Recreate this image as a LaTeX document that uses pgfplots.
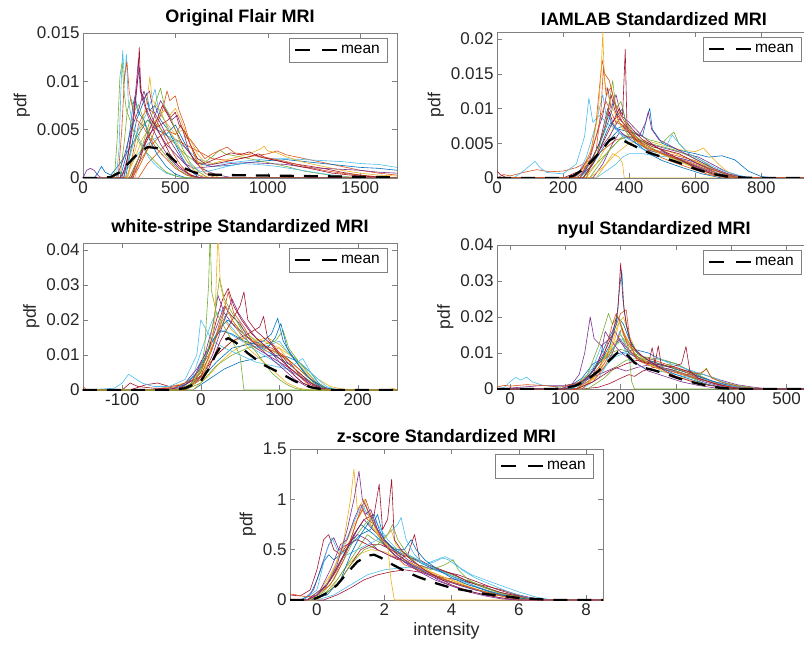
\documentclass[border=0pt]{standalone}
\usepackage{pgfplots}
\pgfplotsset{compat=1.18}
\usepackage{fontspec}
\setmainfont{Liberation Sans}
\definecolor{c1}{rgb}{0,0.447,0.741}
\definecolor{c2}{rgb}{0.85,0.325,0.098}
\definecolor{c3}{rgb}{0.929,0.694,0.125}
\definecolor{c4}{rgb}{0.494,0.184,0.556}
\definecolor{c5}{rgb}{0.466,0.674,0.188}
\definecolor{c6}{rgb}{0.301,0.745,0.933}
\definecolor{c7}{rgb}{0.635,0.078,0.184}
\newcommand{\lgfont}{\fontsize{15.5}{17}\selectfont}
\pgfplotsset{
 mat/.style={scale only axis, anchor=south west,
  axis line style={black!50}, every tick/.style={black!50},
  tick align=inside, major tick length=5pt,
  /pgf/number format/assume math mode=true,
  /pgf/number format/1000 sep={}, scaled ticks=false,
  ticklabel style={font=\fontsize{17}{19}\selectfont, text=black!85},
  title style={font=\bfseries\fontsize{18}{20}\selectfont, yshift=-3pt},
  ylabel={pdf}, ylabel style={font=\fontsize{17.5}{19}\selectfont, text=black!85},
  xlabel style={font=\fontsize{18}{20}\selectfont, text=black!85},
  legend style={at={(1,1)}, anchor=north east, xshift=-10pt, yshift=-5pt,
   draw=black!50, inner xsep=5pt, inner ysep=5pt,
   /tikz/every even column/.append style={column sep=6pt}},
  legend image code/.code={\draw[##1, dash pattern=on 15pt off 12pt] (0pt,0pt) -- (43pt,0pt);},
 },
 cv/.style={forget plot, line width=0.6pt, line join=round},
 mn/.style={black, line width=2.3pt, dash pattern=on 14pt off 10pt},
}
\begin{document}
\begin{tikzpicture}
\useasboundingbox (0,0) rectangle (804pt,649pt);
% ---------------- Panel 1
\begin{axis}[mat, at={(83pt,471pt)}, width=314pt, height=145pt,
 xmin=0, xmax=1700, ymin=0, ymax=15,
 xtick={0,500,1000,1500}, ytick={0,5,10,15},
 yticklabels={0,0.005,0.01,0.015}, title={Original Flair MRI}]
\addplot[cv,c2] coordinates {(0,0)(300,0)(350,1.5)(400,2.5)(450,3.5)(500,4)(550,3.5)(600,3)(650,2.5)(700,2)(800,1.8)(900,2.2)(1000,2.5)(1050,2.8)(1100,2.4)(1200,2)(1300,1.6)(1400,1.2)(1500,0.8)(1600,0.5)(1700,0.3)};
\addplot[cv,c6] coordinates {(0,0)(200,0)(260,1.5)(320,3)(380,4)(440,4.5)(500,4)(560,3)(620,2)(700,1.5)(800,1.6)(900,1.8)(1000,2)(1100,2.0)(1200,1.9)(1300,1.8)(1400,1.7)(1500,1.5)(1600,1.4)(1700,1.1)};
\addplot[cv,c1] coordinates {(0,0)(230,0)(260,3)(290,6)(320,7.5)(345,8.8)(360,7)(390,7.5)(420,6)(460,5)(500,3.5)(540,2)(580,0.8)(630,0)(1700,0)};
\addplot[cv,c1] coordinates {(0,0)(60,0)(80,0.5)(100,1.2)(120,0.6)(150,0.3)(200,1.5)(250,3)(300,4.5)(350,6)(400,5)(450,4.5)(500,5.5)(540,4)(580,2.5)(620,1.5)(700,1.2)(800,1.3)(900,1.6)(1000,1.8)(1100,1.9)(1200,1.7)(1300,1.5)(1400,1.3)(1500,1.1)(1600,1.0)(1700,0.8)};
\addplot[cv,c2] coordinates {(0,0)(240,0)(270,2.5)(300,5.5)(325,6.5)(350,7.2)(380,6.8)(410,5.5)(450,4)(490,2.5)(530,1.3)(570,0.5)(620,0)(1700,0)};
\addplot[cv,c5] coordinates {(0,0)(220,0)(260,3)(300,5)(350,6)(400,5.5)(450,4.5)(500,3.5)(550,2.5)(600,1.8)(650,1.5)(700,2.2)(740,2.9)(770,2.5)(820,2.3)(900,2)(1000,1.6)(1100,1.2)(1200,0.7)(1300,0.4)(1450,0.1)(1550,0)(1700,0)};
\addplot[cv,c3] coordinates {(0,0)(280,0)(320,2.5)(360,5)(400,6)(440,7)(470,6.5)(500,7.2)(530,6)(560,4.5)(590,3)(620,1.8)(660,0.8)(700,0.3)(750,0)(1700,0)};
\addplot[cv,c3] coordinates {(0,0)(230,0)(280,2)(320,4)(370,5.5)(420,6.5)(460,5.5)(500,4.5)(540,5)(580,4)(620,2.5)(650,1.8)(700,1.5)(800,2)(900,2.5)(960,3)(980,3.3)(1000,2.8)(1050,2.6)(1100,2.2)(1200,1.6)(1300,1.2)(1400,0.8)(1500,0.5)(1600,0.3)(1700,0.2)};
\addplot[cv,c4] coordinates {(0,0)(270,0)(310,2)(350,4.5)(390,6.5)(420,8)(450,7)(480,6)(510,6.5)(540,5)(570,3)(600,1.8)(640,1)(700,0.5)(760,0.2)(820,0)(1700,0)};
\addplot[cv,c7] coordinates {(0,0)(250,0)(300,2)(350,4)(400,6)(430,7.5)(460,6.5)(500,5)(540,3.5)(580,2.5)(620,1.5)(700,1.4)(800,1.8)(900,2.2)(950,2.5)(1000,2.0)(1100,1.6)(1200,1.3)(1300,1.0)(1400,0.6)(1500,0.3)(1600,0.1)(1700,0)};
\addplot[cv,c5] coordinates {(0,0)(200,0)(225,4)(240,7)(260,8.2)(280,7)(300,7.6)(320,6.5)(350,5)(380,4)(420,3)(470,1.8)(520,0.8)(580,0.2)(640,0)(1700,0)};
\addplot[cv,c4] coordinates {(0,0)(20,0.8)(40,1)(60,0.8)(80,0.3)(100,0)(180,0)(220,2)(260,5)(300,7)(330,9)(360,7)(400,5)(450,3.5)(500,2.5)(550,1.5)(600,1)(700,1.2)(800,1.5)(900,1.6)(1000,1.5)(1100,1.4)(1200,1.1)(1300,1.0)(1400,0.9)(1500,0.8)(1600,0.6)(1700,0.5)};
\addplot[cv,c6] coordinates {(0,0)(220,0)(250,2)(280,4)(310,5.5)(340,6.5)(370,8)(390,9.2)(410,7)(440,6)(480,4.5)(520,3)(560,1.8)(600,1)(650,0.6)(700,0.8)(780,1.2)(850,1.5)(950,1.4)(1050,1.2)(1150,0.9)(1250,0.6)(1350,0.3)(1450,0)(1700,0)};
\addplot[cv,c2] coordinates {(0,0)(260,0)(300,1.5)(350,3)(400,4)(450,5)(500,4.5)(530,5.5)(555,4.2)(580,4)(620,3)(660,2)(700,2.5)(780,3.2)(820,2.6)(900,2.4)(1000,2.1)(1100,1.7)(1200,1.2)(1300,0.8)(1400,0.5)(1550,0.2)(1700,0)};
\addplot[cv,c7] coordinates {(0,0)(260,0)(300,2)(340,4)(380,5)(420,5.5)(460,6)(500,6.8)(520,5.5)(550,4.8)(580,3.5)(620,2)(660,1.5)(720,2)(800,2.6)(850,2.4)(900,2.7)(950,2.2)(1050,1.8)(1150,1.3)(1250,0.9)(1350,0.5)(1500,0.2)(1700,0)};
\addplot[cv,c1] coordinates {(0,0)(200,0)(230,2)(255,5)(270,7.5)(282,8.5)(295,7)(310,6.5)(330,6)(360,4)(400,2.5)(450,1.2)(500,0.4)(560,0)(1700,0)};
\addplot[cv,c2] coordinates {(0,0)(260,0)(300,1)(350,3)(400,5.5)(430,7)(455,9)(470,8)(500,8.5)(520,7)(550,5.5)(580,3.5)(620,1.5)(660,0.5)(720,0)(1700,0)};
\addplot[cv,c5] coordinates {(0,0)(250,0)(300,2)(340,4.5)(380,7)(405,8.5)(420,9.3)(440,7.5)(470,6.5)(500,5)(540,3)(580,1.6)(630,0.6)(680,0)(1700,0)};
\addplot[cv,c4] coordinates {(0,0)(210,0)(240,2)(270,6)(290,9.2)(305,11.5)(320,8)(340,8.5)(360,9)(380,7)(410,6)(450,4.5)(500,3)(550,1.5)(600,0.5)(660,0)(1700,0)};
\addplot[cv,c3] coordinates {(0,0)(240,0)(270,2)(300,4)(330,6.5)(350,8.5)(362,10.5)(375,8)(400,7.5)(430,6.5)(460,5)(500,4)(540,2.5)(580,1.2)(630,0.3)(700,0)(1700,0)};
\addplot[cv,c4] coordinates {(0,0)(220,0)(250,3)(275,7)(290,10)(300,12.3)(310,9)(325,8)(350,6.5)(380,5)(420,3.5)(470,2)(520,1)(580,0.3)(640,0)(1700,0)};
\addplot[cv,c6] coordinates {(0,0)(180,0)(195,3)(205,9)(215,13.2)(225,10)(235,12.8)(245,8)(260,6.5)(280,5)(300,4.2)(330,3)(360,2)(400,1.2)(450,0.5)(500,0.2)(560,0)(1700,0)};
\addplot[cv,c5] coordinates {(0,0)(170,0)(185,4)(200,10.5)(212,12)(222,9)(235,7)(255,6)(280,4.5)(310,3.5)(350,2.5)(400,1.5)(450,0.6)(520,0.1)(600,0)(1700,0)};
\addplot[cv,c2] coordinates {(0,0)(190,0)(210,5)(225,10.5)(238,12)(250,9)(265,7.5)(290,6)(320,5.5)(350,4.5)(400,3)(450,2)(500,1)(560,0.3)(620,0)(1700,0)};
\addplot[cv,c7] coordinates {(0,0)(200,0)(230,1)(260,4)(280,7)(295,10)(305,13.5)(312,9)(325,8.5)(345,7)(370,6)(400,5.2)(430,4)(470,2.5)(520,1.2)(580,0.3)(640,0)(1700,0)};
\addplot[mn] coordinates {(0,0)(100,0)(150,0.1)(200,0.6)(250,1.6)(300,2.6)(350,3.2)(400,3.1)(450,2.6)(500,1.7)(550,1.0)(600,0.6)(650,0.4)(700,0.35)(800,0.3)(1000,0.25)(1200,0.2)(1400,0.15)(1600,0.1)(1700,0.05)};
\addlegendentry{\lgfont mean}
\end{axis}
% ---------------- Panel 2
\begin{axis}[mat, at={(497pt,471pt)}, width=314pt, height=146pt,
 xmin=0, xmax=950, ymin=0, ymax=21,
 xtick={0,200,400,600,800}, ytick={0,5,10,15,20},
 yticklabels={0,0.005,0.01,0.015,0.02}, title={IAMLAB Standardized MRI}]
\addplot[cv,c2] coordinates {(0,0)(20,0.5)(40,0.3)(80,0.8)(120,1.2)(160,0.9)(200,1.0)(240,1.5)(280,2.5)(320,4)(360,5.5)(400,6)(440,5)(480,4)(520,3.5)(560,3)(600,2.5)(640,1.5)(680,0.8)(720,0.3)(760,0)(950,0)};
\addplot[cv,c6] coordinates {(0,0)(300,0)(330,1)(360,2)(380,3)(400,3.5)(440,3.5)(480,3.2)(520,3)(560,2.8)(600,2.2)(640,1.5)(680,0.8)(700,0.5)(730,0.3)(760,0.1)(800,0)(950,0)};
\addplot[cv,c3] coordinates {(0,0)(300,0)(330,2)(350,3.5)(370,3)(380,2)(385,0)(950,0)};
\addplot[cv,c4] coordinates {(0,0)(290,0)(320,2)(350,5)(370,6.5)(390,6)(420,5.5)(450,5)(490,4.5)(530,4)(570,3.5)(610,3)(650,2)(690,1)(730,0.3)(770,0)(950,0)};
\addplot[cv,c5] coordinates {(0,0)(280,0)(310,2)(340,4)(370,5.5)(400,6)(430,5.5)(460,5)(500,4.5)(540,4)(580,3.2)(620,2.2)(660,1.2)(700,0.5)(740,0)(950,0)};
\addplot[cv,c5] coordinates {(0,0)(260,0)(300,2)(340,4)(380,6)(420,6.5)(460,5.5)(500,5)(520,6)(535,6.6)(550,5)(580,3.5)(620,2.5)(660,1.2)(700,0.3)(740,0)(950,0)};
\addplot[cv,c3] coordinates {(0,0)(280,0)(320,1.5)(360,3.5)(400,5)(440,5.5)(480,5)(520,4.5)(560,4)(600,3.8)(625,4.3)(640,3.5)(670,2)(700,0.8)(730,0.2)(760,0)(950,0)};
\addplot[cv,c1] coordinates {(0,0)(260,0)(290,2)(310,4)(330,6.5)(345,8)(360,7)(380,7.5)(400,6)(430,5)(470,4)(510,3.2)(560,2.5)(610,1.6)(660,0.8)(710,0.2)(750,0)(950,0)};
\addplot[cv,c3] coordinates {(0,0)(270,0)(300,2)(330,4.5)(350,7)(365,8.5)(380,7)(400,6.5)(430,5.5)(470,4.5)(520,3.8)(570,3)(620,2)(670,1)(710,0.3)(750,0)(950,0)};
\addplot[cv,c1] coordinates {(0,0)(250,0)(290,2)(330,5)(370,7)(410,6.5)(440,6)(455,9)(462,10)(470,7)(500,5)(550,4)(600,3.5)(640,3)(680,3.2)(720,2.6)(760,1)(800,0.2)(840,0)(950,0)};
\addplot[cv,c4] coordinates {(0,0)(230,0)(260,1)(290,3)(310,5)(325,8)(335,10)(345,8)(365,7)(390,6)(420,5)(460,4.2)(500,3.6)(540,3)(590,2.4)(640,1.4)(690,0.6)(730,0)(950,0)};
\addplot[cv,c7] coordinates {(0,0)(250,0)(280,2)(305,4.5)(325,7)(340,9.5)(350,8)(365,9)(380,8)(400,7)(430,5.5)(470,4.5)(510,4)(550,3.5)(590,2.5)(630,1.5)(670,0.6)(710,0)(950,0)};
\addplot[cv,c4] coordinates {(0,0)(240,0)(280,1.5)(310,4)(340,6)(370,8.5)(400,7)(430,6)(450,8)(458,9.5)(468,7)(490,5.5)(530,4.5)(570,3.5)(610,2.5)(650,1.5)(700,0.6)(750,0)(950,0)};
\addplot[cv,c6] coordinates {(0,0)(50,0)(80,1)(100,1.8)(115,2.4)(130,1.5)(150,0.8)(200,0.6)(240,2)(265,6)(278,11.5)(290,8)(310,9)(330,8)(360,7)(400,5)(450,4)(500,3.5)(530,6.2)(550,5)(580,3.5)(620,2.5)(660,1.5)(700,0.8)(740,0.3)(780,0)(950,0)};
\addplot[cv,c7] coordinates {(0,1)(10,0.5)(30,0)(200,0)(250,1)(300,3)(330,8)(345,12)(355,10)(370,8)(400,6.5)(430,5)(460,4)(500,3.5)(560,2.5)(610,1.5)(660,0.6)(700,0)(950,0)};
\addplot[cv,c6] coordinates {(0,0)(240,0)(270,3)(295,7)(310,10)(320,12)(330,9)(350,8)(370,6.5)(400,5.5)(440,4.5)(480,3.8)(530,3)(580,2.2)(630,1.3)(680,0.5)(720,0)(950,0)};
\addplot[cv,c1] coordinates {(0,0)(250,0)(290,3)(320,6)(340,8.5)(355,11)(365,9)(380,10)(395,7)(420,5)(460,3.5)(500,2.5)(560,1.5)(620,0.6)(680,0)(950,0)};
\addplot[cv,c4] coordinates {(0,0)(220,0)(250,1)(280,3)(300,6)(320,9)(335,13)(345,10)(360,12)(375,9)(400,8)(440,6)(480,4.5)(530,3)(580,2)(630,1)(680,0.3)(720,0)(950,0)};
\addplot[cv,c5] coordinates {(0,0)(260,0)(300,3)(325,7)(340,11)(350,14)(360,10)(375,11)(390,8)(420,6)(460,4.5)(500,3.5)(550,2.5)(600,1.5)(650,0.5)(700,0)(950,0)};
\addplot[cv,c2] coordinates {(0,0)(250,0)(280,2.5)(300,6)(315,9)(330,11)(345,9.5)(360,8)(385,7.5)(410,6)(450,4.5)(500,3.5)(550,2.8)(600,2)(650,1.2)(700,0.4)(740,0)(950,0)};
\addplot[cv,c2] coordinates {(0,0)(270,0)(300,4)(315,10)(322,16)(330,12)(345,13)(360,10)(380,8)(410,6)(450,4.5)(500,3.5)(560,2.5)(620,1.5)(670,0.6)(720,0)(950,0)};
\addplot[cv,c2] coordinates {(0,0)(230,0)(260,1.5)(285,4)(300,8)(310,13)(318,17)(326,15)(340,14)(355,11)(375,9)(400,7)(430,5)(470,3.5)(520,2.5)(580,1.5)(640,0.5)(700,0)(950,0)};
\addplot[cv,c3] coordinates {(0,0)(240,0)(270,2)(290,5)(305,9)(315,15)(320,21)(325,14)(335,12)(350,10)(370,8)(400,6)(430,5)(470,4)(520,3)(570,2)(620,1)(680,0.3)(720,0)(950,0)};
\addplot[cv,c7] coordinates {(0,0)(260,0)(290,2)(320,5)(350,8)(370,10)(380,9)(388,18.5)(393,8)(410,7)(440,5.5)(480,4.5)(520,3.5)(560,2.5)(600,1.5)(650,0.6)(700,0)(950,0)};
\addplot[mn] coordinates {(0,0)(200,0)(230,0.3)(260,1.2)(290,2.6)(320,4.2)(340,5.4)(355,5.8)(370,5.7)(390,5.2)(420,4.5)(450,3.8)(500,3.0)(550,2.2)(600,1.3)(650,0.6)(700,0.2)(750,0.05)(800,0)(950,0)};
\addlegendentry{\lgfont mean}
\end{axis}
% ---------------- Panel 3
\begin{axis}[mat, at={(83pt,259pt)}, width=314pt, height=147pt,
 xmin=-150, xmax=250, ymin=0, ymax=42,
 xtick={-100,0,100,200}, ytick={0,10,20,30,40},
 yticklabels={0,0.01,0.02,0.03,0.04}, title={white-stripe Standardized MRI}]
\addplot[cv,c3] coordinates {(-150,0)(-60,0)(-40,1)(-20,2)(0,5)(20,10)(40,14)(60,15)(80,14)(100,12)(120,9)(135,6)(150,3)(165,1)(180,0.3)(200,0)(240,0)(245,0.5)(250,0)};
\addplot[cv,c1] coordinates {(-150,0)(-10,0)(10,3)(30,6)(50,8)(70,9)(90,10)(110,9.5)(125,8)(140,5)(150,2)(160,0.5)(175,0)(250,0)};
\addplot[cv,c3] coordinates {(-150,0)(-10,0)(10,4)(25,8)(40,11)(55,13)(70,14)(85,15)(100,13)(115,10)(130,6)(145,2.5)(160,0.5)(175,0)(250,0)};
\addplot[cv,c6] coordinates {(-150,0)(-30,0)(-10,4)(5,14)(15,20)(25,23)(35,19)(50,15)(65,12)(80,10)(95,8)(110,6)(125,4)(140,2)(160,0.5)(180,0)(250,0)};
\addplot[cv,c1] coordinates {(-150,0)(-30,0)(-10,3)(5,9)(15,14)(25,18)(35,20)(45,18)(55,16)(70,13)(85,11)(100,9)(115,7)(130,4)(145,1.5)(160,0.3)(175,0)(250,0)};
\addplot[cv,c3] coordinates {(-150,0)(-30,0)(-10,2)(10,9)(20,15)(30,20)(40,17)(55,14)(70,12)(85,11)(100,12)(110,9)(120,6)(135,3)(150,1)(165,0)(250,0)};
\addplot[cv,c6] coordinates {(-150,0)(-25,0)(-5,5)(10,12)(20,16)(30,17)(45,15)(60,13)(75,12)(90,13)(100,14)(110,11)(125,8)(140,5)(150,3)(160,1)(175,0)(250,0)};
\addplot[cv,c5] coordinates {(-150,0)(-20,0)(0,2)(20,7)(40,10)(60,12)(80,13)(95,14)(105,17)(112,12)(125,8)(140,4)(150,1.5)(160,0)(250,0)};
\addplot[cv,c5] coordinates {(-150,0)(-20,0)(0,4)(15,12)(25,19)(35,22)(45,20)(55,17)(70,14)(85,12)(100,10)(115,8)(130,5)(145,2)(160,0.5)(175,0)(250,0)};
\addplot[cv,c1] coordinates {(-150,0)(-20,0)(0,3)(20,8)(40,12)(60,13)(80,14)(90,16)(98,20.5)(105,14)(115,10)(125,7)(135,4)(145,2)(155,0.5)(170,0)(250,0)};
\addplot[cv,c7] coordinates {(-150,0)(-90,0)(-70,1.5)(-55,2)(-40,1)(-20,1.5)(0,4)(20,10)(40,14)(60,16)(75,18)(80,21)(85,15)(95,12)(110,8)(125,5)(140,2)(155,0.5)(170,0)(250,0)};
\addplot[cv,c2] coordinates {(-150,0)(-20,0)(0,4)(15,12)(25,20)(32,24)(40,20)(50,17)(60,15)(75,13)(90,12)(105,10)(120,7)(135,4)(150,1.5)(165,0)(250,0)};
\addplot[cv,c6] coordinates {(-150,0)(-110,0.5)(-100,2)(-92,4.5)(-85,3.5)(-75,2)(-60,1)(-40,1)(-20,3)(-5,10)(0,20)(5,18)(15,14)(30,12)(50,10)(70,8)(90,7)(110,6)(130,9)(140,5)(155,0.3)(170,0)(250,0)};
\addplot[cv,c1] coordinates {(-150,0)(-40,0)(-20,1.5)(0,6)(15,14)(25,17)(40,16)(55,14)(70,13)(85,12)(95,15)(102,19)(110,12)(125,7)(140,3)(155,1)(170,0)(250,0)};
\addplot[cv,c4] coordinates {(-150,0)(-40,0)(-20,2)(-5,6)(10,12)(20,18)(30,24)(40,21)(50,19)(60,15)(75,12)(90,9)(105,6)(120,3)(135,1)(150,0)(250,0)};
\addplot[cv,c4] coordinates {(-150,0)(-30,0)(-10,3)(5,10)(15,18)(22,27)(30,22)(40,19)(55,15)(70,12)(85,10)(100,8)(115,6)(130,3.5)(145,1.2)(160,0)(250,0)};
\addplot[cv,c2] coordinates {(-150,1)(-145,0)(-60,0)(-30,1)(-10,3)(10,10)(25,18)(35,28)(42,22)(55,18)(65,14)(80,12)(95,11)(110,9)(120,6)(130,3)(140,1)(155,0)(250,0)};
\addplot[cv,c4] coordinates {(-150,0)(-20,0)(0,3)(15,10)(30,20)(40,26)(48,22)(60,18)(70,15)(85,12)(100,8)(115,5)(130,2)(145,0.5)(160,0)(250,0)};
\addplot[cv,c7] coordinates {(-150,0)(-20,0)(0,5)(12,13)(20,20)(28,26)(35,29)(42,24)(52,20)(65,16)(80,13)(95,10)(110,7)(125,4)(140,1.5)(155,0.3)(170,0)(250,0)};
\addplot[cv,c7] coordinates {(-150,0)(-100,0)(-90,2)(-80,1)(-60,0.5)(-30,0.5)(-10,1.5)(10,6)(25,14)(40,20)(50,24)(55,28)(60,20)(70,17)(80,15)(90,13)(100,10)(110,7)(120,4)(130,2)(145,0.5)(160,0)(250,0)};
\addplot[cv,c5] coordinates {(-150,0)(-20,0)(0,5)(10,12)(18,22)(24,32)(30,26)(40,22)(50,18)(60,14)(70,11)(80,8)(90,5)(100,3)(110,1.5)(120,0.5)(130,0)(250,0)};
\addplot[cv,c3] coordinates {(-150,0)(-20,0)(0,3)(10,8)(18,20)(22,45)(25,30)(30,25)(40,20)(50,16)(60,12)(70,10)(80,8)(90,6)(100,4)(110,2)(125,0.5)(140,0)(250,0)};
\addplot[cv,c5] coordinates {(-150,0)(-30,0)(-10,2)(0,6)(5,12)(10,30)(12,45)(14,28)(20,22)(30,18)(40,14)(50,10)(55,0)(250,0)};
\addplot[mn] coordinates {(-150,0)(-40,0)(-20,0.5)(0,2.5)(10,6)(20,10.5)(30,14.2)(35,14.8)(45,13.5)(60,10.5)(80,7.2)(100,5)(120,2.5)(140,0.8)(155,0.2)(170,0)(250,0)};
\addlegendentry{\lgfont mean}
\end{axis}
% ---------------- Panel 4
\begin{axis}[mat, at={(497pt,260pt)}, width=314pt, height=144pt,
 xmin=-23.5, xmax=544, ymin=0, ymax=40,
 xtick={0,100,200,300,400,500}, ytick={0,10,20,30,40},
 yticklabels={0,0.01,0.02,0.03,0.04}, title={nyul Standardized MRI}]
\addplot[cv,c7] coordinates {(-25,0)(130,0)(160,0.5)(180,1.5)(200,3)(215,4)(225,3.5)(240,5)(260,6)(290,5.5)(320,4)(350,2.5)(380,1)(410,0.3)(440,0)(545,0)};
\addplot[cv,c1] coordinates {(-25,0)(100,0)(130,3)(150,7)(175,9)(200,10)(225,11)(250,10)(275,8)(300,7)(325,5)(350,3)(375,1.5)(400,0.5)(430,0)(545,0)};
\addplot[cv,c4] coordinates {(-25,0)(20,0.5)(60,1)(100,1)(130,2)(160,4)(190,6)(210,5)(230,6)(260,7)(290,6)(320,5)(350,4)(380,2.5)(410,1.2)(440,0.5)(470,0)(545,0)};
\addplot[cv,c5] coordinates {(-25,0)(110,0)(140,3)(160,7)(180,10)(200,11)(220,10)(240,9)(260,8.5)(280,8)(300,7)(320,5.5)(340,4)(360,2.5)(380,1.2)(410,0.3)(440,0)(545,0)};
\addplot[cv,c6] coordinates {(-25,0)(110,0)(140,2)(170,6)(190,9)(210,10)(230,9)(250,8)(270,8.5)(290,7)(310,6)(330,5)(350,4)(370,3)(395,1.5)(420,0.5)(450,0)(545,0)};
\addplot[cv,c3] coordinates {(-25,0)(100,0)(130,2)(150,5)(170,9)(185,12)(200,15)(215,12)(230,9)(250,7.5)(270,7)(290,6)(310,5)(330,4)(350,3)(375,1.5)(400,0.5)(430,0)(545,0)};
\addplot[cv,c5] coordinates {(-25,0)(140,0)(170,3)(190,6)(210,8)(230,8.5)(250,8)(270,7)(290,6)(310,5)(330,4.5)(345,4)(355,5.8)(362,3.5)(380,2)(410,1)(440,0.3)(470,0)(545,0)};
\addplot[cv,c7] coordinates {(-25,0)(120,0)(150,3)(170,7)(185,11)(198,14)(208,12)(220,10)(240,8)(260,7)(280,6.5)(300,6)(320,5)(340,3.5)(360,2.5)(380,1.5)(410,0.5)(440,0)(545,0)};
\addplot[cv,c5] coordinates {(-25,0)(120,0)(150,5)(170,9)(190,12)(205,14)(215,10)(220,2)(225,0)(545,0)};
\addplot[cv,c3] coordinates {(-25,0)(130,0)(160,4)(180,10)(190,14)(198,19)(205,16)(215,13)(230,10)(250,8)(270,6)(300,5)(330,3.5)(360,2)(390,1)(420,0.3)(470,0)(545,0)};
\addplot[cv,c6] coordinates {(-25,0)(130,0)(160,3)(180,8)(190,12)(198,16)(206,13)(218,10)(235,8)(255,7)(275,6)(295,5)(320,4)(345,3)(370,2)(400,1)(430,0.3)(460,0)(545,0)};
\addplot[cv,c1] coordinates {(-25,0)(110,0)(140,3)(160,8)(175,13)(185,16)(195,20)(205,18)(215,14)(230,10)(250,8)(270,7)(290,6)(310,5)(330,4)(350,3)(370,2)(400,0.8)(430,0)(545,0)};
\addplot[cv,c2] coordinates {(-25,0)(120,0)(150,2)(170,6)(185,10)(195,14)(202,17)(210,14)(222,11)(240,9)(260,8)(280,7)(300,6)(320,4.5)(340,3)(360,2)(390,0.8)(420,0)(545,0)};
\addplot[cv,c6] coordinates {(-25,0)(-10,0.5)(0,2)(10,3.2)(20,2.5)(30,3.3)(40,2)(60,1)(100,0.5)(130,2)(150,6)(165,12)(175,8)(185,11)(200,14)(215,8)(240,6)(270,5)(300,4)(330,3)(360,2)(390,1)(420,0.3)(450,0)(545,0)};
\addplot[cv,c4] coordinates {(-25,0)(120,0)(150,4)(165,10)(172,16)(180,14)(190,16)(200,13)(215,10)(235,8)(255,7)(275,6)(300,5)(325,3.5)(350,2)(380,0.8)(410,0)(545,0)};
\addplot[cv,c4] coordinates {(-25,0)(90,0)(110,1)(125,4)(135,10)(145,20)(152,14)(165,12)(180,14)(195,11)(210,9)(230,7)(250,5)(280,3.5)(310,2)(340,1)(370,0.3)(400,0)(545,0)};
\addplot[cv,c5] coordinates {(-25,0)(110,0)(140,4)(160,12)(170,17)(178,21)(185,18)(195,20)(205,15)(215,12)(230,9)(250,7)(270,6)(290,7)(300,5)(330,3)(350,1.5)(380,0.5)(410,0)(545,0)};
\addplot[cv,c2] coordinates {(-25,0.5)(-10,1)(0,0.8)(30,1.2)(60,1)(90,0.5)(120,1.5)(150,4)(175,9)(190,17)(200,21)(210,22)(218,12)(230,8)(260,6)(290,5)(320,4)(345,4.5)(355,5.5)(365,3)(390,1.5)(420,0.5)(450,0)(545,0)};
\addplot[cv,c2] coordinates {(-25,0)(130,0)(160,5)(175,12)(185,18)(192,21)(198,19)(206,15)(215,11)(230,8.5)(250,7)(270,6)(290,5)(310,4)(335,3)(360,2)(390,0.8)(420,0)(545,0)};
\addplot[cv,c3] coordinates {(-25,0)(120,0)(150,3)(170,8)(185,13)(195,18)(205,20)(215,15)(230,10)(250,7)(275,5)(300,3.5)(325,2.5)(350,1.5)(380,0.5)(410,0)(545,0)};
\addplot[cv,c7] coordinates {(-25,0)(120,0)(150,2)(180,5)(210,7)(230,8)(250,7)(257,11.5)(262,7)(268,12)(273,7)(290,6)(310,7)(318,11.8)(325,5)(340,3)(370,1.5)(400,0.5)(430,0)(545,0)};
\addplot[cv,c1] coordinates {(-25,0)(110,0)(140,3)(165,8)(180,12)(192,18)(198,28)(202,33)(206,22)(215,14)(230,10)(250,8)(270,6)(300,4)(330,2.5)(360,1.2)(390,0.3)(420,0)(545,0)};
\addplot[cv,c7] coordinates {(-25,0)(100,0)(130,2)(150,5)(170,10)(185,15)(195,22)(200,35)(204,25)(210,18)(220,12)(240,9)(260,7)(280,5)(300,3.5)(330,2)(360,1)(390,0.3)(420,0)(545,0)};
\addplot[mn] coordinates {(-25,0)(80,0)(100,0.3)(120,1)(140,2.7)(160,5)(180,8)(195,10.2)(205,10.4)(215,9)(225,7.3)(240,6)(260,5.2)(280,4.3)(300,3.2)(320,2.2)(340,1.5)(360,0.8)(380,0.3)(400,0.1)(420,0)(545,0)};
\addlegendentry{\lgfont mean}
\end{axis}
% ---------------- Panel 5
\begin{axis}[mat, at={(290pt,49pt)}, width=313pt, height=151pt,
 xmin=-0.8, xmax=8.5, ymin=0, ymax=1.5,
 xtick={0,2,4,6,8}, ytick={0,0.5,1,1.5},
 title={z-score Standardized MRI}, xlabel={intensity}]
\addplot[cv,c7] coordinates {(-0.8,0)(0.2,0)(0.6,0.05)(1.0,0.12)(1.4,0.2)(1.8,0.25)(2.2,0.28)(2.6,0.3)(3.0,0.28)(3.4,0.25)(3.8,0.22)(4.2,0.2)(4.6,0.17)(5.0,0.14)(5.5,0.1)(6.0,0.05)(6.4,0.02)(6.8,0)(8.5,0)};
\addplot[cv,c6] coordinates {(-0.8,0)(0,0)(0.5,0.05)(1.0,0.15)(1.5,0.25)(2.0,0.3)(2.5,0.32)(3.0,0.33)(3.4,0.38)(3.7,0.42)(3.9,0.4)(4.2,0.33)(4.6,0.25)(5.0,0.2)(5.5,0.14)(6.0,0.08)(6.5,0.03)(7,0)(8.5,0)};
\addplot[cv,c3] coordinates {(-0.8,0)(0,0)(0.4,0.1)(0.8,0.3)(1.2,0.45)(1.6,0.5)(2.0,0.48)(2.4,0.42)(2.8,0.36)(3.2,0.3)(3.6,0.25)(4.0,0.2)(4.5,0.15)(5.0,0.1)(5.5,0.06)(6.0,0.03)(6.5,0.01)(7,0)(8.5,0)};
\addplot[cv,c7] coordinates {(-0.8,0)(-0.2,0)(0.2,0.05)(0.6,0.15)(1.0,0.35)(1.3,0.5)(1.6,0.55)(1.9,0.55)(2.2,0.5)(2.5,0.45)(2.8,0.42)(3.1,0.38)(3.4,0.33)(3.8,0.28)(4.2,0.25)(4.6,0.2)(5.0,0.15)(5.4,0.1)(5.8,0.06)(6.2,0.03)(6.6,0.01)(7,0)(8.5,0)};
\addplot[cv,c4] coordinates {(-0.8,0)(-0.2,0)(0.2,0.1)(0.6,0.3)(0.9,0.5)(1.2,0.7)(1.4,0.8)(1.6,0.72)(1.8,0.65)(2.1,0.55)(2.4,0.48)(2.7,0.4)(3.0,0.35)(3.3,0.32)(3.6,0.3)(4.0,0.26)(4.4,0.2)(4.9,0.14)(5.4,0.08)(5.9,0.04)(6.4,0.01)(6.8,0)(8.5,0)};
\addplot[cv,c5] coordinates {(-0.8,0)(-0.2,0)(0.2,0.05)(0.6,0.2)(1.0,0.4)(1.3,0.55)(1.5,0.65)(1.7,0.6)(2.0,0.55)(2.3,0.5)(2.6,0.4)(3.0,0.3)(3.4,0.25)(3.8,0.2)(4.3,0.15)(4.8,0.1)(5.3,0.06)(5.8,0.03)(6.3,0)(8.5,0)};
\addplot[cv,c5] coordinates {(-0.8,0)(-0.2,0)(0.2,0.08)(0.5,0.2)(0.8,0.4)(1.1,0.6)(1.3,0.7)(1.5,0.78)(1.7,0.7)(1.9,0.6)(2.1,0.55)(2.4,0.5)(2.7,0.45)(3.0,0.4)(3.3,0.35)(3.6,0.3)(4.0,0.25)(4.4,0.2)(4.9,0.14)(5.4,0.08)(5.9,0.04)(6.4,0)(8.5,0)};
\addplot[cv,c1] coordinates {(-0.8,0)(-0.3,0)(0,0.05)(0.4,0.2)(0.8,0.45)(1.1,0.65)(1.3,0.75)(1.5,0.7)(1.7,0.65)(2.0,0.55)(2.3,0.45)(2.6,0.38)(3.0,0.32)(3.4,0.26)(3.8,0.2)(4.2,0.15)(4.7,0.1)(5.2,0.06)(5.7,0.03)(6.2,0)(8.5,0)};
\addplot[cv,c7] coordinates {(-0.8,0.05)(-0.5,0.04)(-0.2,0.1)(0,0.3)(0.2,0.6)(0.35,0.65)(0.5,0.5)(0.7,0.45)(0.9,0.55)(1.2,0.6)(1.5,0.55)(1.8,0.5)(2.1,0.45)(2.4,0.4)(2.7,0.45)(2.9,0.65)(3.05,0.4)(3.3,0.35)(3.7,0.3)(4.1,0.25)(4.5,0.18)(5,0.12)(5.5,0.07)(6,0.04)(6.5,0.01)(7,0)(8.5,0)};
\addplot[cv,c4] coordinates {(-0.8,0)(-0.4,0)(-0.1,0.1)(0.15,0.35)(0.35,0.55)(0.5,0.62)(0.65,0.5)(0.9,0.55)(1.2,0.65)(1.5,0.6)(1.8,0.5)(2.1,0.45)(2.5,0.4)(2.9,0.32)(3.3,0.25)(3.7,0.2)(4.2,0.15)(4.7,0.1)(5.2,0.06)(5.7,0.03)(6.2,0)(8.5,0)};
\addplot[cv,c1] coordinates {(-0.8,0)(-0.5,0)(-0.2,0.05)(0,0.2)(0.2,0.38)(0.35,0.45)(0.5,0.4)(0.7,0.45)(1.0,0.55)(1.3,0.65)(1.6,0.7)(1.8,0.85)(2.0,0.6)(2.3,0.5)(2.6,0.45)(2.9,0.4)(3.2,0.35)(3.5,0.3)(3.9,0.25)(4.3,0.2)(4.8,0.12)(5.3,0.06)(5.8,0.02)(6.3,0)(8.5,0)};
\addplot[cv,c6] coordinates {(-0.8,0)(-0.4,0)(0,0.1)(0.3,0.5)(0.45,0.62)(0.6,0.5)(0.9,0.45)(1.2,0.5)(1.5,0.55)(1.8,0.6)(2.1,0.65)(2.4,0.75)(2.5,0.82)(2.65,0.6)(2.9,0.45)(3.2,0.35)(3.5,0.38)(3.8,0.43)(4.0,0.4)(4.3,0.3)(4.7,0.22)(5.2,0.15)(5.7,0.08)(6.2,0.03)(6.7,0)(8.5,0)};
\addplot[cv,c5] coordinates {(-0.8,0)(-0.2,0)(0.2,0.05)(0.6,0.15)(1.0,0.35)(1.4,0.5)(1.8,0.55)(2.1,0.65)(2.25,0.75)(2.4,0.6)(2.7,0.45)(3.0,0.35)(3.4,0.3)(3.8,0.35)(4.05,0.4)(4.2,0.3)(4.5,0.2)(5.0,0.12)(5.5,0.06)(6,0.02)(6.5,0)(8.5,0)};
\addplot[cv,c6] coordinates {(-0.8,0)(-0.2,0)(0.2,0.1)(0.5,0.3)(0.8,0.55)(1.0,0.7)(1.2,0.85)(1.35,0.95)(1.5,0.85)(1.7,0.8)(1.9,0.7)(2.1,0.6)(2.4,0.5)(2.7,0.45)(3.0,0.4)(3.4,0.33)(3.8,0.27)(4.2,0.2)(4.7,0.14)(5.2,0.08)(5.7,0.04)(6.2,0)(8.5,0)};
\addplot[cv,c2] coordinates {(-0.8,0.06)(-0.6,0.05)(-0.3,0.03)(0,0.05)(0.4,0.15)(0.8,0.4)(1.1,0.7)(1.3,0.9)(1.45,1.0)(1.6,0.85)(1.8,0.7)(2.0,0.55)(2.3,0.45)(2.6,0.35)(3.0,0.3)(3.4,0.25)(3.8,0.2)(4.2,0.16)(4.6,0.12)(5.0,0.08)(5.5,0.05)(6,0.02)(6.5,0)(8.5,0)};
\addplot[cv,c3] coordinates {(-0.8,0)(-0.3,0)(0.1,0.1)(0.4,0.25)(0.7,0.45)(0.9,0.6)(1.1,0.75)(1.3,0.85)(1.45,0.95)(1.6,0.75)(1.8,0.65)(2.0,0.6)(2.2,0.7)(2.35,0.55)(2.6,0.45)(3.0,0.35)(3.4,0.28)(3.8,0.22)(4.3,0.16)(4.8,0.1)(5.3,0.05)(5.8,0.02)(6.3,0)(8.5,0)};
\addplot[cv,c1] coordinates {(-0.8,0)(-0.2,0)(0.3,0.05)(0.7,0.2)(1.0,0.45)(1.3,0.65)(1.5,0.75)(1.7,0.85)(1.85,0.7)(2.0,0.6)(2.3,0.5)(2.6,0.5)(2.8,0.6)(2.95,0.5)(3.2,0.4)(3.6,0.3)(4.0,0.22)(4.5,0.15)(5.0,0.1)(5.5,0.05)(6,0.02)(6.5,0)(8.5,0)};
\addplot[cv,c2] coordinates {(-0.8,0)(-0.2,0)(0.2,0.1)(0.5,0.25)(0.8,0.45)(1.0,0.6)(1.2,0.8)(1.35,0.9)(1.5,0.8)(1.7,0.75)(1.9,0.6)(2.2,0.5)(2.5,0.42)(2.9,0.35)(3.3,0.28)(3.7,0.22)(4.1,0.17)(4.6,0.12)(5.1,0.07)(5.6,0.03)(6.1,0)(8.5,0)};
\addplot[cv,c4] coordinates {(-0.8,0)(-0.3,0)(0.1,0.1)(0.4,0.3)(0.7,0.55)(0.9,0.6)(1.1,0.8)(1.3,0.95)(1.45,0.85)(1.6,0.9)(1.8,0.7)(2.0,0.55)(2.3,0.45)(2.7,0.35)(3.1,0.27)(3.5,0.2)(4,0.14)(4.5,0.09)(5,0.05)(5.5,0.02)(6,0)(8.5,0)};
\addplot[cv,c7] coordinates {(-0.8,0)(-0.3,0)(0,0.05)(0.4,0.2)(0.8,0.45)(1.1,0.65)(1.4,0.8)(1.7,0.85)(1.85,1.15)(1.95,0.7)(2.1,0.8)(2.22,1.2)(2.3,0.6)(2.5,0.5)(2.8,0.4)(3.2,0.3)(3.6,0.22)(4,0.15)(4.5,0.09)(5,0.05)(5.5,0.02)(6,0)(8.5,0)};
\addplot[cv,c3] coordinates {(-0.8,0)(-0.2,0)(0.2,0.1)(0.5,0.3)(0.8,0.6)(1.0,1.0)(1.1,1.3)(1.2,0.9)(1.4,1.0)(1.6,0.8)(1.9,0.6)(2.1,0.55)(2.2,0.2)(2.3,0)(8.5,0)};
\addplot[cv,c4] coordinates {(-0.8,0)(-0.3,0)(0,0.05)(0.3,0.15)(0.6,0.35)(0.9,0.7)(1.1,1.0)(1.25,1.28)(1.35,1.0)(1.5,0.9)(1.7,0.75)(2.0,0.6)(2.4,0.45)(2.8,0.35)(3.2,0.28)(3.6,0.2)(4.0,0.14)(4.5,0.08)(5,0.04)(5.5,0.01)(6,0)(8.5,0)};
\addplot[mn] coordinates {(-0.8,0)(-0.2,0)(0,0.02)(0.3,0.07)(0.6,0.15)(0.9,0.27)(1.2,0.38)(1.5,0.44)(1.7,0.45)(1.9,0.42)(2.2,0.36)(2.6,0.29)(3.0,0.23)(3.5,0.17)(4.0,0.12)(4.5,0.09)(5.0,0.06)(5.5,0.04)(6.0,0.02)(6.5,0.01)(7,0)(8.5,0)};
\addlegendentry{\lgfont mean}
\end{axis}
\end{tikzpicture}
\end{document}
